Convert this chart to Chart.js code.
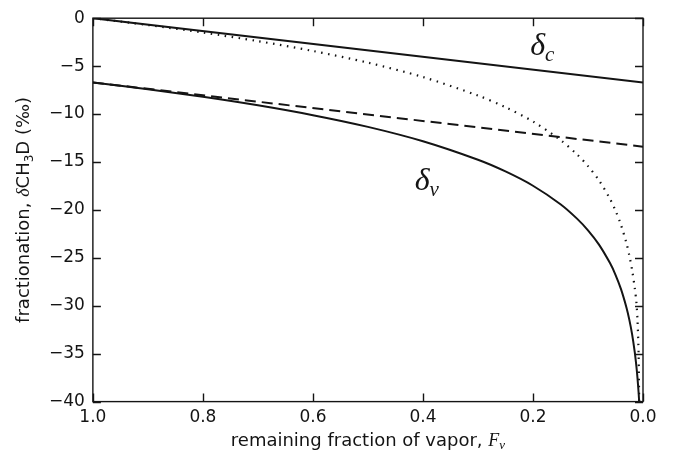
<!DOCTYPE html>
<html>
<head>
<meta charset="utf-8">
<script src="https://cdn.jsdelivr.net/npm/chart.js@4/dist/chart.umd.min.js"></script>
<style>
  html, body { margin: 0; padding: 0; background: #fff; }
  #wrap { width: 676px; height: 459px; }
</style>
</head>
<body>
<div id="wrap"><canvas id="fracChart" width="676" height="459"></canvas></div>
<script>
// remaining fraction of vapor (x) and curves
const fraction = [1.0, 0.9, 0.8, 0.7, 0.6, 0.5, 0.4, 0.3, 0.25, 0.2, 0.15, 0.12, 0.1, 0.08, 0.06, 0.05, 0.04, 0.03, 0.025, 0.02, 0.015, 0.012, 0.01, 0.008, 0.007];
const deltaVapor = [-6.70, -7.41, -8.20, -9.09, -10.12, -11.34, -12.84, -14.77, -15.99, -17.48, -19.41, -20.91, -22.13, -23.62, -25.55, -26.77, -28.27, -30.20, -31.42, -32.91, -34.84, -36.33, -37.55, -39.05, -40.0];
const deltaCondInst = [0, -0.71, -1.50, -2.39, -3.42, -4.64, -6.14, -8.07, -9.29, -10.78, -12.71, -14.21, -15.43, -16.92, -18.85, -20.07, -21.57, -23.50, -24.72, -26.21, -28.14, -29.63, -31.5, -35.0, -40.0];
// straight lines
const lineFraction = [1.0, 0.0];
const deltaCond = [0, -6.7];
const deltaVaporBatch = [-6.7, -13.4];

const xTicks = [1.0, 0.8, 0.6, 0.4, 0.2, 0.0];
const yTicks = [0, -5, -10, -15, -20, -25, -30, -35, -40];

const ink = '#141414';
const sans = 'DejaVu Sans';

function pts(xs, ys) {
    return xs.map((x, i) => ({ x: x, y: ys[i] }));
}

// frame, inward ticks, axis titles and curve labels
const decor = {
    id: 'decor',
    afterDraw(chart) {
        const ctx = chart.ctx;
        const a = chart.chartArea;
        const x = chart.scales.x, y = chart.scales.y;
        ctx.save();
        ctx.strokeStyle = ink;
        ctx.lineWidth = 1.4;
        ctx.strokeRect(a.left, a.top, a.right - a.left, a.bottom - a.top);
        ctx.beginPath();
        xTicks.forEach(v => {
            const px = Math.round(x.getPixelForValue(v)) + 0.5;
            ctx.moveTo(px, a.bottom); ctx.lineTo(px, a.bottom - 8);
            ctx.moveTo(px, a.top); ctx.lineTo(px, a.top + 8);
        });
        yTicks.forEach(v => {
            const py = Math.round(y.getPixelForValue(v)) + 0.5;
            ctx.moveTo(a.left, py); ctx.lineTo(a.left + 8, py);
            ctx.moveTo(a.right, py); ctx.lineTo(a.right - 8, py);
        });
        ctx.stroke();

        ctx.fillStyle = ink;
        ctx.textBaseline = 'alphabetic';

        // x title
        const xt1 = 'remaining fraction of vapor, ';
        ctx.font = '18px "' + sans + '"';
        const w1 = ctx.measureText(xt1).width;
        ctx.font = 'italic 18px "Liberation Serif"';
        const wF = ctx.measureText('F').width;
        ctx.font = 'italic 13px "Liberation Serif"';
        const wv = ctx.measureText('v').width;
        let sx = (a.left + a.right) / 2 - (w1 + wF + wv) / 2;
        const by = 446;
        ctx.textAlign = 'left';
        ctx.font = '18px "' + sans + '"';
        ctx.fillText(xt1, sx, by);
        ctx.font = 'italic 18px "Liberation Serif"';
        ctx.fillText('F', sx + w1, by);
        ctx.font = 'italic 13px "Liberation Serif"';
        ctx.fillText('v', sx + w1 + wF, by + 3);

        // y title, rotated
        ctx.save();
        ctx.translate(29, (a.top + a.bottom) / 2);
        ctx.rotate(-Math.PI / 2);
        const parts = [
            ['fractionation, ', '18px "' + sans + '"', 0],
            ['δ', 'italic 18px "Liberation Serif"', 0],
            ['CH', '18px "' + sans + '"', 0],
            ['3', '12px "' + sans + '"', 4],
            ['D (‰)', '18px "' + sans + '"', 0]
        ];
        let tw = 0;
        parts.forEach(p => { ctx.font = p[1]; tw += ctx.measureText(p[0]).width; });
        let cx = -tw / 2;
        parts.forEach(p => {
            ctx.font = p[1];
            ctx.fillText(p[0], cx, 0 + p[2]);
            cx += ctx.measureText(p[0]).width;
        });
        ctx.restore();

        // curve labels
        const label = (fx, fy, sub) => {
            const px = x.getPixelForValue(fx), py = y.getPixelForValue(fy);
            ctx.font = 'italic 32px "Liberation Serif"';
            ctx.fillText('δ', px, py);
            const wd = ctx.measureText('δ').width;
            ctx.font = 'italic 21px "Liberation Serif"';
            ctx.fillText(sub, px + wd, py + 6);
        };
        label(0.205, -3.8, 'c');
        label(0.415, -17.9, 'v');
        ctx.restore();
    }
};

new Chart(document.getElementById('fracChart'), {
    type: 'scatter',
    data: {
        datasets: [
            {
                data: pts(lineFraction, deltaCond),
                showLine: true, borderColor: ink, borderWidth: 2, pointRadius: 0
            },
            {
                data: pts(lineFraction, deltaVaporBatch),
                showLine: true, borderColor: ink, borderWidth: 2, pointRadius: 0,
                borderDash: [11, 6]
            },
            {
                data: pts(fraction, deltaCondInst),
                showLine: true, borderColor: ink, borderWidth: 2.2, pointRadius: 0,
                borderDash: [1.5, 5.5], tension: 0.3
            },
            {
                data: pts(fraction, deltaVapor),
                showLine: true, borderColor: ink, borderWidth: 2, pointRadius: 0,
                tension: 0.3
            }
        ]
    },
    options: {
        responsive: false,
        animation: false,
        layout: { padding: { left: 41, right: 33, top: 16, bottom: 25 } },
        scales: {
            x: {
                type: 'linear',
                reverse: true,
                min: 0, max: 1,
                grid: { display: false, drawTicks: false },
                border: { display: false },
                afterBuildTicks: s => { s.ticks = xTicks.map(v => ({ value: v })); },
                ticks: {
                    color: ink, padding: 6,
                    font: { family: sans, size: 17 },
                    callback: v => v.toFixed(1)
                }
            },
            y: {
                min: -40, max: 0,
                grid: { display: false, drawTicks: false },
                border: { display: false },
                afterBuildTicks: s => { s.ticks = yTicks.map(v => ({ value: v })); },
                ticks: {
                    color: ink, padding: 8,
                    font: { family: sans, size: 17 },
                    callback: v => String(v).replace('-', '\u2212')
                }
            }
        },
        plugins: {
            legend: { display: false },
            tooltip: { enabled: false }
        }
    },
    plugins: [decor]
});
</script>
</body>
</html>
